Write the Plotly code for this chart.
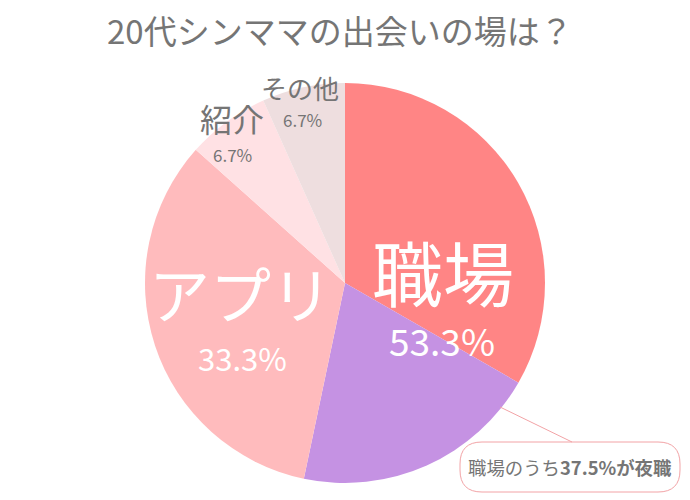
import plotly.graph_objects as go

# ---- data ----
slice_names = ["職場(昼職)", "職場(夜職)", "アプリ", "紹介", "その他"]
slice_values = [33.3, 20.0, 33.3, 6.7, 6.7]
slice_colors = ["#FF8585", "#C592E3", "#FFBBBD", "#FFE1E4", "#EEDEDF"]

label_names = ["職場", "アプリ", "紹介", "その他"]
label_pcts = ["53.3%", "33.3%", "6.7%", "6.7%"]
title_text = "20代シンママの出会いの場は？"
note_plain = "職場のうち"
note_bold = "37.5%が夜職"

W, H = 690, 500
FONT = "Noto Sans CJK JP"
GRAY = "#757575"


def px(x):
    return x / W


def py(y):
    return 1 - y / H


fig = go.Figure()
fig.add_trace(go.Pie(
    labels=slice_names,
    values=slice_values,
    marker=dict(colors=slice_colors, line=dict(width=0)),
    sort=False,
    direction="clockwise",
    rotation=0,
    textinfo="none",
    hoverinfo="label+percent",
    domain=dict(x=[px(145), px(545)], y=[py(483), py(83)]),
))

ann = []
# title
ann.append(dict(x=px(340), y=py(30), text=title_text, showarrow=False,
                font=dict(family=FONT, size=33, color=GRAY), xanchor="center", yanchor="middle"))

# label styles: (name center, name size, name color, pct center, pct size, pct color)
styles = [
    ((443, 270), 71, "white", (442, 340), 37, "white"),
    ((240, 292), 61, "white", (242, 357), 31, "white"),
    ((232, 118), 32, GRAY, (232, 154), 17, GRAY),
    ((300, 88), 26, GRAY, (302, 119), 17, GRAY),
]
for name, pct, st in zip(label_names, label_pcts, styles):
    (nx, ny), ns, nc, (qx, qy), qs, qc = st
    ann.append(dict(x=px(nx), y=py(ny), text=name, showarrow=False,
                    font=dict(family=FONT, size=ns, color=nc), xanchor="center", yanchor="middle"))
    ann.append(dict(x=px(qx), y=py(qy), text=pct, showarrow=False,
                    font=dict(family=FONT, size=qs, color=qc), xanchor="center", yanchor="middle"))

# note box text
ann.append(dict(x=px(570), y=py(467), text=f"{note_plain}<b>{note_bold}</b>", showarrow=False,
                font=dict(family=FONT, size=18.4, color=GRAY), xanchor="center", yanchor="middle"))

# rounded rectangle path
x0, x1, y0, y1, r = 460, 680, 442, 492, 22
pts = [
    ("M", (x0 + r, y0)), ("L", (x1 - r, y0)), ("Q", (x1, y0), (x1, y0 + r)),
    ("L", (x1, y1 - r)), ("Q", (x1, y1), (x1 - r, y1)), ("L", (x0 + r, y1)),
    ("Q", (x0, y1), (x0, y1 - r)), ("L", (x0, y0 + r)), ("Q", (x0, y0), (x0 + r, y0)),
]
path = ""
for p in pts:
    cmd = p[0]
    coords = " ".join(f"{px(a):.5f},{py(b):.5f}" for a, b in p[1:])
    path += f"{cmd} {coords} "
path += "Z"

shapes = [
    dict(type="path", xref="paper", yref="paper", path=path,
         line=dict(color="#F2A3A6", width=1), fillcolor="white"),
    dict(type="line", xref="paper", yref="paper", x0=px(500), y0=py(407), x1=px(572), y1=py(442),
         line=dict(color="#F2A3A6", width=1)),
]

fig.update_layout(
    width=W, height=H, margin=dict(l=0, r=0, t=0, b=0),
    paper_bgcolor="white", plot_bgcolor="white", showlegend=False,
    annotations=ann, shapes=shapes,
)
fig.write_html("out.html")
